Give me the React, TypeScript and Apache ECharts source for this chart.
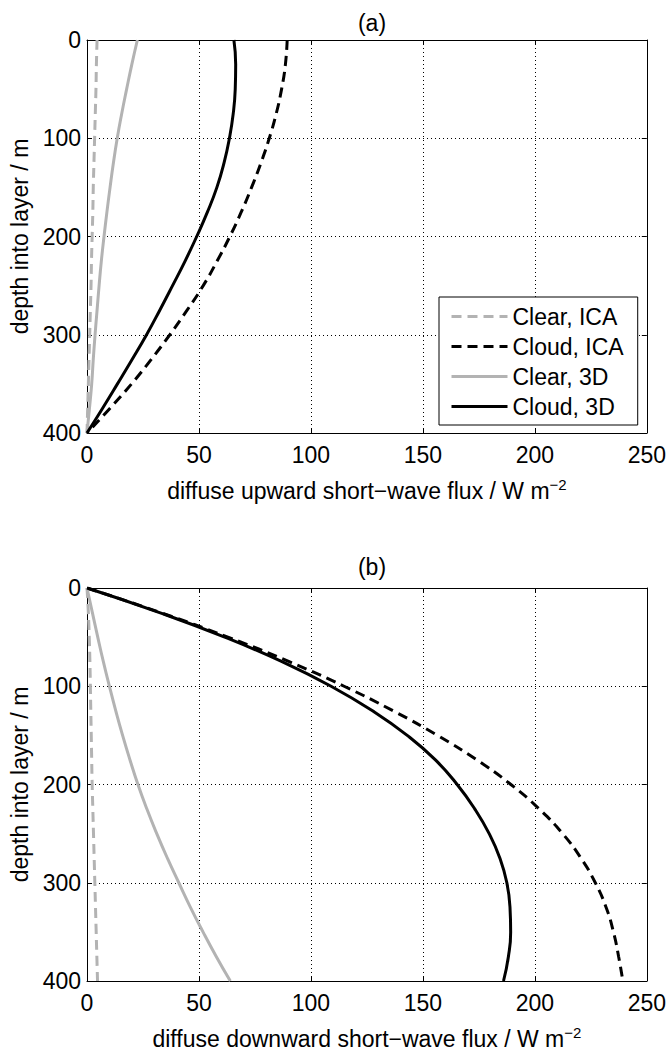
import React, { useEffect, useRef } from "react";
import * as echarts from "echarts";

const FONT = "'Liberation Sans', Arial, Helvetica, sans-serif";
const GRAY = "#b3b3b3";

const seriesNames = ["Clear, ICA", "Cloud, ICA", "Clear, 3D", "Cloud, 3D"];
const panelTitles = ["(a)", "(b)"];
const xNames = [
  "diffuse upward short\u2212wave flux / W m{sup|\u22122}",
  "diffuse downward short\u2212wave flux / W m{sup|\u22122}",
];
const yName = "depth into layer / m";

// Panel (a): diffuse upward flux
const depthA = [0, 25, 50, 75, 100, 125, 150, 175, 200, 225, 250, 275, 300, 325, 350, 375, 400];
const upClearICA = [4.5, 4.2, 4.0, 3.7, 3.4, 3.1, 2.8, 2.6, 2.3, 2.0, 1.8, 1.5, 1.2, 0.9, 0.6, 0.3, 0];
const upCloudICA = [89.4, 88.6, 86.9, 84.5, 81.4, 77.7, 73.5, 68.9, 63.8, 58.1, 51.9, 44.7, 37.0, 28.7, 19.9, 10.2, 0];
const upClear3D = [22.5, 20.0, 17.7, 15.5, 13.5, 11.8, 10.3, 8.9, 7.6, 6.4, 5.4, 4.5, 3.6, 2.8, 2.1, 1.1, 0];
const upCloud3D = [65.6, 66.4, 66.2, 65.3, 63.6, 61.2, 58.0, 53.8, 49.0, 43.8, 38.2, 32.5, 26.6, 20.2, 13.6, 6.9, 0];

// Panel (b): diffuse downward flux
const depthB = [0, 25, 50, 75, 100, 125, 150, 175, 200, 225, 250, 275, 300, 325, 350, 375, 400];
const downClearICA = [0, 0.6, 1.0, 1.3, 1.5, 1.7, 1.9, 2.1, 2.3, 2.6, 2.9, 3.2, 3.5, 3.8, 4.1, 4.4, 4.7];
const downCloudICA = [0, 32.75, 62.9, 90.3, 114.8, 136.7, 156.5, 174.1, 189.3, 202.0, 212.4, 220.6, 227.0, 231.8, 235.1, 237.4, 239.3];
const downClear3D = [0, 2.4, 4.8, 7.3, 10.0, 12.85, 15.9, 19.2, 22.75, 26.75, 31.15, 35.9, 41.0, 46.2, 51.8, 57.7, 64.0];
const downCloud3D = [0, 32.4, 61.5, 87.1, 109.0, 127.5, 143.0, 155.6, 165.3, 173.2, 179.6, 184.4, 187.5, 188.9, 189.2, 188.2, 186.0];

const xMin = 0, xMax = 250, xInterval = 50;
const yMin = 0, yMax = 400, yInterval = 100;

const styles: Record<string, { color: string; type: any }> = {
  "Clear, ICA": { color: GRAY, type: [10, 6] },
  "Cloud, ICA": { color: "#000", type: [10, 6] },
  "Clear, 3D": { color: GRAY, type: "solid" },
  "Cloud, 3D": { color: "#000", type: "solid" },
};

function pairs(vals: number[], depths: number[]) {
  return vals.map((v, i) => [v, depths[i]]);
}

export default function App() {
  const ref = useRef<HTMLDivElement>(null);
  useEffect(() => {
    document.body.style.margin = "0";
    const chart = echarts.init(ref.current!, undefined, { renderer: "svg" });

    const grids = [
      { left: 87, top: 40, width: 560, height: 393 },
      { left: 87, top: 588, width: 560, height: 393 },
    ];

    const xAxes: any[] = [];
    const yAxes: any[] = [];
    [0, 1].forEach((g) => {
      const common = {
        type: "value",
        gridIndex: g,
        min: xMin,
        max: xMax,
        interval: xInterval,
        axisLine: { show: true, onZero: false, lineStyle: { color: "#000", width: 1 } },
        axisTick: { show: true, inside: true, length: 5, lineStyle: { color: "#000", width: 1 } },
      };
      xAxes.push({
        ...common,
        position: "bottom",
        axisLabel: { show: true, margin: 10, fontSize: 23, color: "#000", fontFamily: FONT },
        splitLine: { show: true, lineStyle: { type: [1, 3], color: "#000", width: 1 } },
        name: xNames[g],
        nameLocation: "middle",
        nameGap: 44,
        nameTextStyle: {
          fontSize: 23,
          color: "#000",
          fontFamily: FONT,
          rich: {
            sup: { fontSize: 15, color: "#000", fontFamily: FONT, verticalAlign: "bottom", padding: [0, 0, 12, 0] },
          },
        },
      });
      xAxes.push({
        ...common,
        position: "top",
        axisLabel: { show: false },
        splitLine: { show: false },
      });
      const ycommon = {
        type: "value",
        gridIndex: g,
        min: yMin,
        max: yMax,
        interval: yInterval,
        inverse: true,
        axisLine: { show: true, onZero: false, lineStyle: { color: "#000", width: 1 } },
        axisTick: { show: true, inside: true, length: 5, lineStyle: { color: "#000", width: 1 } },
      };
      yAxes.push({
        ...ycommon,
        position: "left",
        axisLabel: { show: true, margin: 6, fontSize: 23, color: "#000", fontFamily: FONT },
        splitLine: { show: true, lineStyle: { type: [1, 3], color: "#000", width: 1 } },
        name: yName,
        nameLocation: "middle",
        nameGap: 55,
        nameTextStyle: { fontSize: 23, color: "#000", fontFamily: FONT },
      });
      yAxes.push({
        ...ycommon,
        position: "right",
        axisLabel: { show: false },
        splitLine: { show: false },
      });
    });

    const panelData = [
      { depths: depthA, vals: [upClearICA, upCloudICA, upClear3D, upCloud3D] },
      { depths: depthB, vals: [downClearICA, downCloudICA, downClear3D, downCloud3D] },
    ];

    const series: any[] = [];
    panelData.forEach((p, g) => {
      seriesNames.forEach((name, k) => {
        series.push({
          type: "line",
          name,
          xAxisIndex: g * 2,
          yAxisIndex: g * 2,
          data: pairs(p.vals[k], p.depths),
          smooth: 0.5,
          showSymbol: false,
          symbol: "none",
          lineStyle: { color: styles[name].color, type: styles[name].type, width: 3 },
          itemStyle: { color: styles[name].color },
          z: 3,
        });
      });
    });

    chart.setOption({
      animation: false,
      backgroundColor: "#fff",
      title: panelTitles.map((t, g) => ({
        text: t,
        left: 367,
        textAlign: "center",
        top: g === 0 ? 6 : 550,
        textStyle: { fontSize: 23, fontWeight: "normal", color: "#000", fontFamily: FONT },
      })),
      grid: grids,
      xAxis: xAxes,
      yAxis: yAxes,
      legend: {
        data: seriesNames,
        orient: "vertical",
        left: 439,
        top: 297,
        padding: [8, 14, 7, 11],
        itemGap: 7,
        itemWidth: 56,
        itemHeight: 20,
        backgroundColor: "#fff",
        borderColor: "#000",
        borderWidth: 1,
        borderRadius: 0,
        selectedMode: false,
        itemStyle: { color: "transparent", borderWidth: 0, opacity: 0 },
        lineStyle: { width: 3 },
        textStyle: { fontSize: 23, color: "#000", fontFamily: FONT },
        z: 10,
      },
      series,
    });
    return () => chart.dispose();
  }, []);
  return <div ref={ref} style={{ width: 669, height: 1054 }} />;
}
